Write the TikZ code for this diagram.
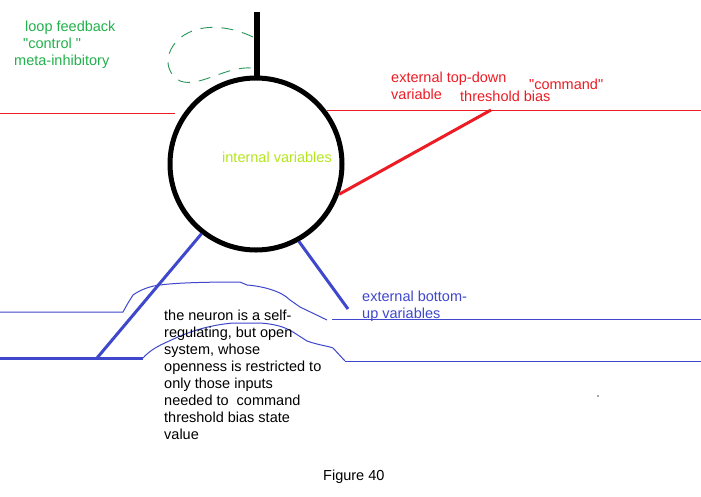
\documentclass[tikz,border=0pt]{standalone}
\usepackage{fontspec}
\setmainfont{Liberation Sans}[Ligatures=TeXOff]
\usetikzlibrary{calc}
\definecolor{pgreen}{RGB}{34,177,76}
\definecolor{dgreen}{RGB}{40,150,90}
\definecolor{pred}{RGB}{237,28,36}
\definecolor{pblue}{RGB}{63,72,204}
\definecolor{ygreen}{RGB}{181,230,29}
\tikzset{
  lbl/.style={inner sep=0pt, font=\fontsize{14.5}{17}\selectfont, align=left},
  thinline/.style={line width=1pt},
  thickline/.style={line width=3pt},
}
\begin{document}
\begin{tikzpicture}[x=1pt,y=-1pt]
\fill[white] (0,0) rectangle (701,496);
\useasboundingbox (0,0) rectangle (701,496);

% neuron
\node[draw, circle, line width=5pt, minimum size=172pt, inner sep=0pt] (neuron) at (256,164) {};
\coordinate (stemtop) at (257,12);
\draw[line width=6.5pt] (stemtop) -- (stemtop |- neuron.north);

% dashed feedback loop
\draw[dgreen, line width=0.9pt, dash pattern=on 12pt off 9pt]
  (253,37) .. controls (230,26) and (200,22) .. (180,38)
  .. controls (164,52) and (164,72) .. (180,81)
  .. controls (200,88) and (225,66) .. (252,68);

% thin red lines
\coordinate (rl0) at (0,113);
\coordinate (rl1) at (175,113);
\coordinate (rr0) at (327,110);
\coordinate (rr1) at (701,110);
\draw[pred, thinline] (rl0) -- (rl1);
\draw[pred, thinline] (rr0) -- (rr1);

% thick red connector
\coordinate (redend) at (491,110);
\draw[pred, thickline] (neuron.340) -- (redend);

% thick blue connectors
\coordinate (bl) at (97,358);
\coordinate (bl0) at (0,358);
\coordinate (bl1) at (143,358);
\coordinate (br) at (348,309);
\draw[pblue, thickline] (neuron.232) -- (bl);
\draw[pblue, thickline] (bl0) -- (bl1);
\draw[pblue, thickline] (neuron.299) -- (br);

% thin blue wavy lines
\coordinate (u0) at (0,312);
\coordinate (u1) at (332,319);
\coordinate (u2) at (701,319);
\draw[pblue, thinline] (u0) -- (123,312) -- (128,303) -- (133,295) .. controls (140,290) and (150,286) .. (160,285)
  .. controls (175,283) and (200,282) .. (240,282) -- (247,285) .. controls (260,286) and (280,290) .. (290,300)
  -- (300,307) -- (327,320);
\draw[pblue, thinline] (u1) -- (u2);
\coordinate (l1) at (345,361);
\coordinate (l2) at (701,361);
\draw[pblue, thinline] (bl1) .. controls (150,350) and (160,345) .. (167,342)
  .. controls (180,336) and (200,326) .. (233,323) -- (260,323)
  .. controls (275,324) and (285,327) .. (293,332) -- (307,341)
  .. controls (318,345) and (328,346) .. (333,348) -- (l1);
\draw[pblue, thinline] (l1) -- (l2);

% texts
\node[lbl, text=pgreen, anchor=north west] (fb) at (14,20.5)
  {\hspace*{11pt}loop feedback\\\hspace*{9pt}"control "\\meta-inhibitory};
\node[lbl, text=pred, anchor=north west] (td) at (391,71.4) {external top-down\\variable};
\node[lbl, text=pred, anchor=base west] (tb) at (460,101) {threshold bias};
\node[lbl, text=pred, anchor=base west] (cmd) at (529,89) {"command"};
\node[lbl, text=ygreen, anchor=base west] (iv) at (222,162) {internal variables};
\node[lbl, text=pblue, anchor=north west] (bu) at (362,290.4) {external bottom-\\up variables};
\node[lbl, text=black, anchor=north west] (desc) at (164,309.5)
  {the neuron is a self-\\regulating, but open\\system, whose\\openness is restricted to\\only those inputs\\needed to~ command\\threshold bias state\\value};
\node[lbl, text=black, anchor=base west] (fig) at (323,480) {Figure 40};
\fill[gray!70] (597,395) rectangle (599,396.5);
\end{tikzpicture}
\end{document}
